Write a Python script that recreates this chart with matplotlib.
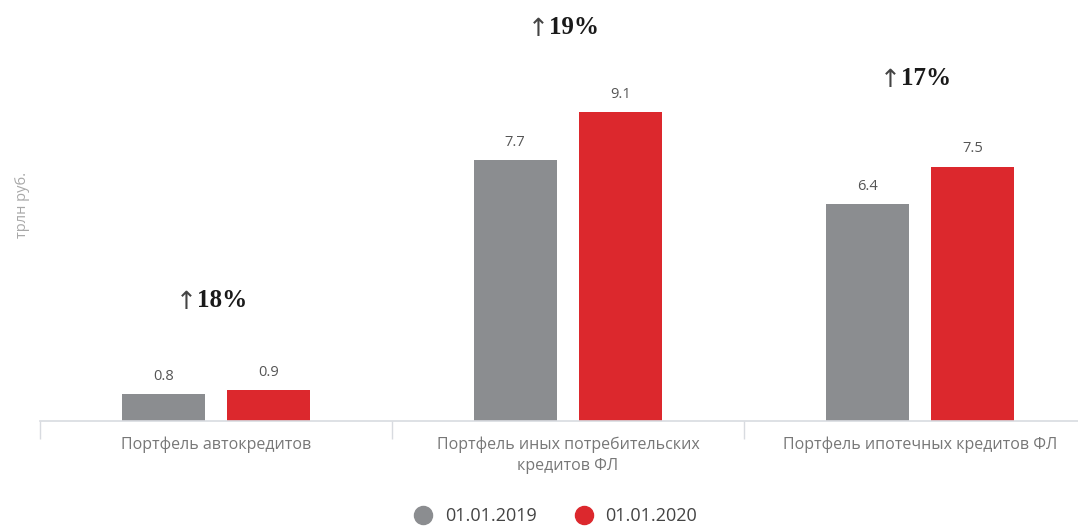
import matplotlib
matplotlib.use('Agg')
import matplotlib.pyplot as plt
import numpy as np
from matplotlib.lines import Line2D

categories = [
    'Портфель автокредитов',
    'Портфель иных потребительских\nкредитов ФЛ',
    'Портфель ипотечных кредитов ФЛ',
]
values_2019 = [0.8, 7.7, 6.4]
values_2020 = [0.9, 9.1, 7.5]
growth_labels = ['18%', '19%', '17%']
growth_y = [3.55, 11.6, 10.1]
series_labels = ['01.01.2019', '01.01.2020']

GRAY = '#8b8d90'
RED = '#dc282d'

plt.rcParams['font.family'] = ['Open Sans', 'DejaVu Sans']

fig = plt.figure(figsize=(10.78, 5.27), dpi=100)
ax = fig.add_axes([40 / 1078, 106 / 527, 1056 / 1078, 407 / 527])

x = np.arange(len(categories))
width = 0.236
offset = 0.15

bars_a = ax.bar(x - offset, values_2019, width, color=GRAY)
bars_b = ax.bar(x + offset, values_2020, width, color=RED)

for bars in (bars_a, bars_b):
    for b in bars:
        ax.text(b.get_x() + b.get_width() / 2, b.get_height() + 0.3,
                f'{b.get_height():.1f}', ha='center', va='bottom',
                fontsize=10.5, color='#555555')

# growth marks: thin arrow followed by bold serif percentage
for xi, lab, gy in zip(x, growth_labels, growth_y):
    ax.annotate(lab, (xi, gy), xytext=(-14, 0), textcoords='offset points',
                ha='left', va='center', fontsize=18, fontweight='bold',
                color='#1a1a1a', family=['Liberation Serif', 'DejaVu Serif'])
    ax.annotate('↑', (xi, gy), xytext=(-13.5, -1), textcoords='offset points',
                ha='right', va='center', fontsize=18, color='#444444',
                family=['DejaVu Sans'])

ax.set_xlim(-0.5, 2.5)
ax.set_ylim(0, 12)
ax.set_yticks([])
ax.set_xticks(x)
ax.set_xticklabels(categories, fontsize=11.5, color='#777777', linespacing=1.45)
ax.tick_params(axis='x', which='major', length=0, pad=11)
ax.set_xticks([-0.5, 0.5, 1.5, 2.5], minor=True)
ax.tick_params(axis='x', which='minor', length=13, width=1, color='#d8dbe0')

for side in ('top', 'right', 'left'):
    ax.spines[side].set_visible(False)
ax.spines['bottom'].set_color('#d8dbe0')
ax.spines['bottom'].set_linewidth(1.2)

fig.text(22 / 1078, 1 - 205 / 527, 'трлн руб.', rotation=90, ha='center',
         va='center', fontsize=10.5, color='#a8a8a8')

handles = [
    Line2D([], [], marker='o', linestyle='none', markersize=13,
           markerfacecolor=GRAY, markeredgecolor=GRAY),
    Line2D([], [], marker='o', linestyle='none', markersize=13,
           markerfacecolor=RED, markeredgecolor=RED),
]
leg = fig.legend(handles, series_labels, loc='center',
                 bbox_to_anchor=(551 / 1078, 1 - 516 / 527), ncol=2,
                 frameon=False, fontsize=13, handletextpad=0.2,
                 columnspacing=1.6)
for t in leg.get_texts():
    t.set_color('#444444')

fig.savefig('out.png', dpi=100)
